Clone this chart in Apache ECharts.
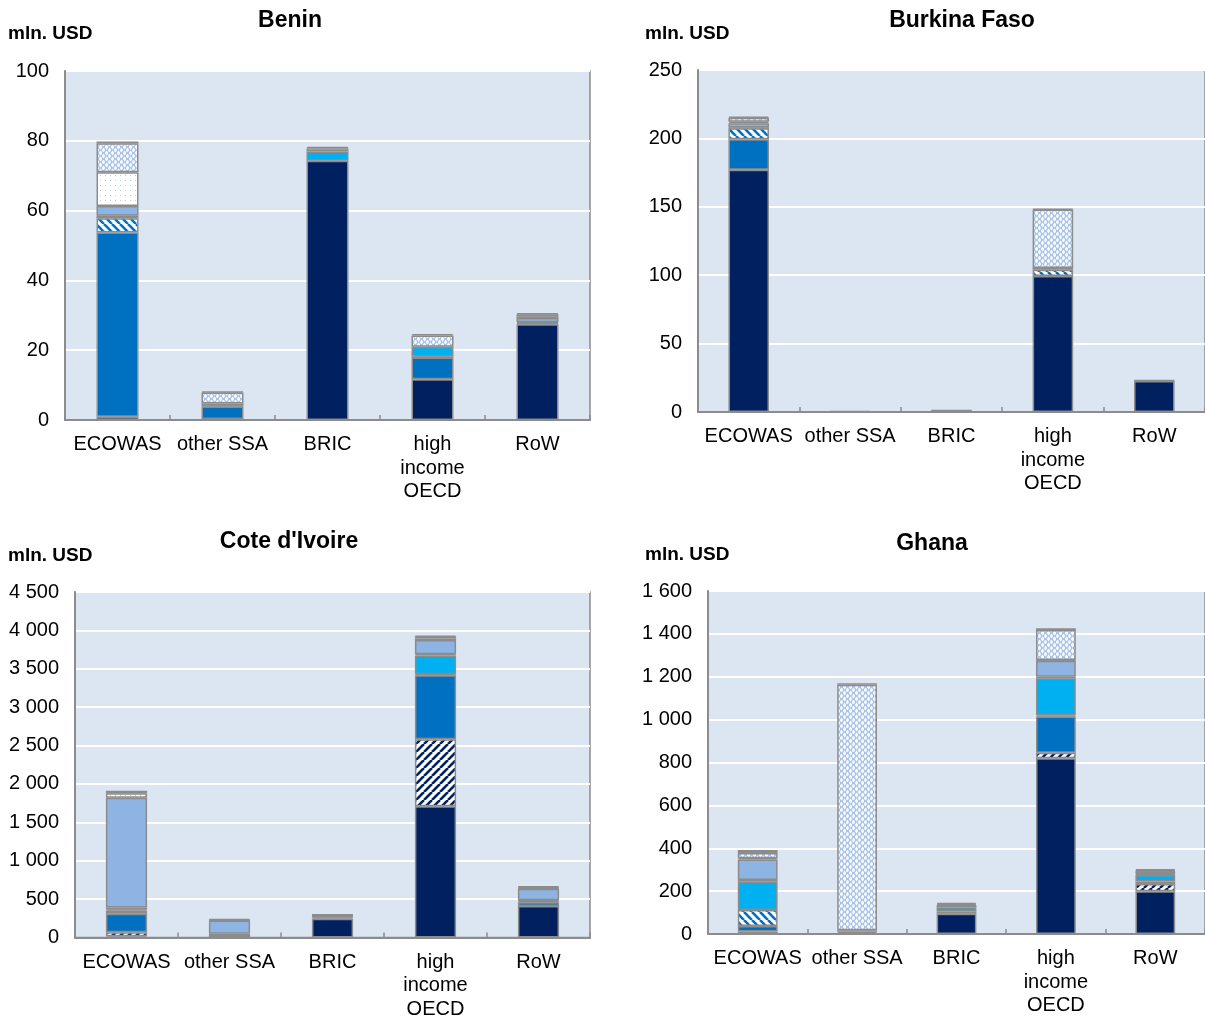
<!DOCTYPE html>
<html>
<head>
<meta charset="utf-8">
<script src="https://cdn.jsdelivr.net/npm/echarts@6/dist/echarts.min.js"></script>
<style>
  html, body { margin: 0; padding: 0; background: #fff; }
  #chart { width: 1205px; height: 1021px; }
</style>
</head>
<body>
<div id="chart"></div>
<script>
(function () {
var categories = ['ECOWAS', 'other SSA', 'BRIC', 'high\nincome\nOECD', 'RoW'];
var seriesNames = ['Series 1', 'Series 2', 'Series 3', 'Series 4', 'Series 5',
                   'Series 6', 'Series 7', 'Series 8', 'Series 9', 'Series 10'];

// rows = series (bottom to top), columns = categories
var beninValues = [
    [0.9, 0.3, 74.3, 11.7, 27.4],
    [0, 0, 0, 0, 0],
    [52.8, 3.6, 0, 6.2, 0],
    [4.1, 0, 0, 0.2, 0.3],
    [0, 0, 2.6, 2.9, 0],
    [0.7, 0.2, 0, 0, 0.3],
    [2.8, 0.6, 0.5, 0, 1.2],
    [9.7, 0, 0, 0, 0.5],
    [8.3, 3.2, 0.5, 3.2, 0.6],
    [0.5, 0.3, 0.3, 0.4, 0.3]
];
var burkinaValues = [
    [177, 0.1, 0.8, 99.5, 22.6],
    [0, 0, 0, 0, 0],
    [22.4, 0, 0, 0, 0],
    [8.0, 0, 0, 4.5, 0],
    [0, 0, 0, 0, 0],
    [0.5, 0, 0, 0, 0],
    [3.2, 0, 0.2, 1.2, 0],
    [1.0, 0, 0, 0, 0],
    [3.0, 0.2, 0, 42.8, 0.3],
    [0.8, 0.2, 0.2, 0.6, 0.4]
];
var coteValues = [
    [15, 20, 245, 1710, 409],
    [55, 0, 0, 872, 0],
    [240, 30, 15, 834, 50],
    [40, 0, 0, 14, 0],
    [15, 0, 0, 244, 15],
    [25, 0, 0, 15, 10],
    [1430, 170, 25, 185, 150],
    [60, 0, 0, 20, 10],
    [10, 10, 10, 25, 12],
    [20, 10, 5, 12, 10]
];
var ghanaValues = [
    [12, 5, 95, 820, 200],
    [0, 0, 0, 26, 33],
    [25, 5, 10, 168, 12],
    [75, 0, 0, 6, 0],
    [132, 0, 20, 173, 30],
    [8, 0, 0, 7, 4],
    [96, 8, 10, 75, 12],
    [5, 0, 0, 3, 3],
    [25, 1145, 5, 140, 4],
    [14, 7, 5, 8, 4]
];

var beninTicks = { max: 100, interval: 20 };
var burkinaTicks = { max: 250, interval: 50 };
var coteTicks = { max: 4500, interval: 500 };
var ghanaTicks = { max: 1600, interval: 200 };

var FONT = 'Liberation Sans';

function makePattern(w, h, draw) {
    var c = document.createElement('canvas');
    c.width = w; c.height = h;
    var ctx = c.getContext('2d');
    draw(ctx, w, h);
    return { image: c, repeat: 'repeat' };
}
function hatch(bg, fg, forward) {
    return makePattern(8, 8, function (ctx, w, h) {
        ctx.fillStyle = bg; ctx.fillRect(0, 0, w, h);
        ctx.strokeStyle = fg; ctx.lineWidth = 2.6;
        for (var k = -1; k <= 1; k++) {
            ctx.beginPath();
            if (forward) {
                ctx.moveTo(k * w, h); ctx.lineTo(k * w + w, 0);
            } else {
                ctx.moveTo(k * w, 0); ctx.lineTo(k * w + w, h);
            }
            ctx.stroke();
        }
    });
}
function dots(bg, fg, step, size) {
    return makePattern(step, step, function (ctx, w, h) {
        ctx.fillStyle = bg; ctx.fillRect(0, 0, w, h);
        ctx.fillStyle = fg; ctx.fillRect(0, 0, size, size);
    });
}
// mottled light-blue "wave" fill
var wavy = makePattern(6, 6, function (ctx, w, h) {
    ctx.fillStyle = '#f4f7fc'; ctx.fillRect(0, 0, w, h);
    ctx.strokeStyle = '#9dbbe2'; ctx.lineWidth = 1.1;
    ctx.beginPath();
    ctx.moveTo(0, 1.5); ctx.quadraticCurveTo(1.5, 4.5, 3, 1.5); ctx.quadraticCurveTo(4.5, -1.5, 6, 1.5);
    ctx.stroke();
    ctx.beginPath();
    ctx.moveTo(-3, 4.5); ctx.quadraticCurveTo(-1.5, 7.5, 0, 4.5); ctx.quadraticCurveTo(1.5, 1.5, 3, 4.5);
    ctx.quadraticCurveTo(4.5, 7.5, 6, 4.5);
    ctx.stroke();
});
var dashed = makePattern(8, 4, function (ctx, w, h) {
    ctx.fillStyle = '#ffffff'; ctx.fillRect(0, 0, w, h);
    ctx.fillStyle = '#7f7f9f'; ctx.fillRect(0, 0, 4, h);
});

var fills = [
    '#002060',
    hatch('#ffffff', '#002060', true),
    '#0070C0',
    hatch('#ffffff', '#0070C0', false),
    '#00B0F0',
    dots('#ffffff', '#00B0F0', 3, 2),
    '#8DB4E2',
    dots('#ffffff', '#b7cbe6', 5, 1),
    wavy,
    dashed
];

var panels = [
    { title: 'Benin', values: beninValues, ticks: beninTicks,
      grid: { left: 65, top: 71, width: 525, height: 349 }, titleX: 290, titleY: 21, unitX: 8, unitY: 34 },
    { title: 'Burkina Faso', values: burkinaValues, ticks: burkinaTicks,
      grid: { left: 698, top: 70, width: 515, height: 342 }, titleX: 962, titleY: 21, unitX: 645, unitY: 34 },
    { title: "Cote d'Ivoire", values: coteValues, ticks: coteTicks,
      grid: { left: 75, top: 592, width: 515, height: 349 }, titleX: 289, titleY: 542, unitX: 8, unitY: 556 },
    { title: 'Ghana', values: ghanaValues, ticks: ghanaTicks,
      grid: { left: 708, top: 591, width: 505, height: 343 }, titleX: 932, titleY: 544, unitX: 645, unitY: 555 }
];

function fmt(v) {
    return String(v).replace(/\B(?=(\d{3})+(?!\d))/g, ' ');
}

var grids = [], xAxes = [], yAxes = [], series = [], graphics = [];
panels.forEach(function (p, gi) {
    grids.push({
        left: p.grid.left, top: p.grid.top, width: p.grid.width, height: p.grid.height,
        show: true, backgroundColor: '#DCE6F2', borderColor: '#8c8c8c', borderWidth: 1.5
    });
    xAxes.push({
        type: 'category', gridIndex: gi, data: categories,
        axisLine: { lineStyle: { color: '#8c8c8c', width: 2 } },
        axisTick: { show: true, inside: true, length: 5, lineStyle: { color: '#8c8c8c', width: 1.5 } },
        axisLabel: { color: '#000', fontFamily: FONT, fontSize: 20, lineHeight: 23.5, margin: 13, interval: 0 }
    });
    yAxes.push({
        type: 'value', gridIndex: gi, min: 0, max: p.ticks.max, interval: p.ticks.interval,
        axisLine: { show: true, lineStyle: { color: '#8c8c8c', width: 2 } },
        axisTick: { show: false },
        splitLine: { lineStyle: { color: '#ffffff', width: 2 } },
        axisLabel: { color: '#000', fontFamily: FONT, fontSize: 20, margin: 16, formatter: fmt }
    });
    p.values.forEach(function (row, si) {
        series.push({
            name: seriesNames[si], type: 'bar', stack: 'panel' + gi,
            xAxisIndex: gi, yAxisIndex: gi, barWidth: '40%',
            data: row.map(function (v) { return v === 0 ? '-' : v; }),
            itemStyle: { color: fills[si], borderColor: '#8c8c8c', borderWidth: 1.5 },
            emphasis: { disabled: true }
        });
    });
    graphics.push({
        type: 'text', x: p.titleX, y: p.titleY,
        style: { text: p.title, font: 'bold 23px "' + FONT + '"', fill: '#000',
                 align: 'center', verticalAlign: 'middle' }
    });
    graphics.push({
        type: 'text', x: p.unitX, y: p.unitY,
        style: { text: 'mln. USD', font: 'bold 19px "' + FONT + '"', fill: '#000',
                 align: 'left', verticalAlign: 'middle' }
    });
});

var myChart = echarts.init(document.getElementById('chart'));
myChart.setOption({
    animation: false,
    grid: grids,
    xAxis: xAxes,
    yAxis: yAxes,
    series: series,
    graphic: graphics
});
window.addEventListener('resize', function () { myChart.resize(); });
})();
</script>
</body>
</html>
